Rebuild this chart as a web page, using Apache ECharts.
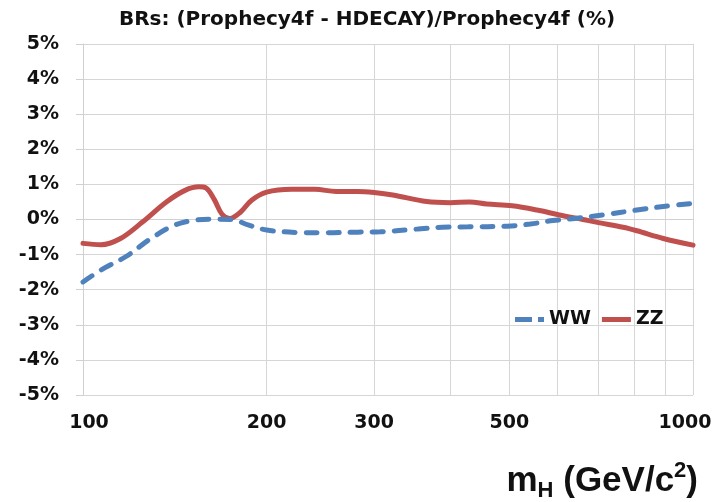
<!DOCTYPE html>
<html>
<head>
<meta charset="utf-8">
<script src="https://cdn.jsdelivr.net/npm/echarts@6/dist/echarts.min.js"></script>
<style>
  html, body { margin: 0; padding: 0; background: #fff; }
  #chart { width: 725px; height: 502px; }
</style>
</head>
<body>
<div id="chart"></div>
<script>
// Higgs mass points (GeV/c^2) and relative BR differences (%) per channel
const zzMass = [100, 107, 115, 125, 137, 147, 155, 159, 164, 169, 174, 181, 189, 200, 220, 240, 260, 282, 300, 322, 366, 400, 430, 459, 505, 555, 604, 660, 700, 768, 809, 894, 1000];
const zzValues = [-0.68, -0.72, -0.55, -0.08, 0.50, 0.83, 0.93, 0.90, 0.58, 0.15, 0.03, 0.20, 0.55, 0.78, 0.86, 0.86, 0.80, 0.80, 0.77, 0.70, 0.51, 0.48, 0.50, 0.44, 0.39, 0.27, 0.13, 0.00, -0.09, -0.22, -0.32, -0.54, -0.73];

const wwMass = [100, 107, 118, 128, 140, 151, 162, 175, 187, 200, 225, 249, 282, 307, 354, 388, 428, 496, 541, 589, 640, 711, 809, 894, 1000];
const wwValues = [-1.78, -1.44, -1.04, -0.59, -0.19, -0.03, 0.01, 0.00, -0.16, -0.30, -0.37, -0.38, -0.36, -0.35, -0.27, -0.22, -0.21, -0.19, -0.13, -0.03, 0.03, 0.13, 0.27, 0.37, 0.46];

// Axis ticks
const gridMasses = [100, 200, 300, 400, 500, 600, 700, 800, 900, 1000];
const massLabels = [100, 200, 300, 500, 1000];

const seriesNames = ['WW', 'ZZ'];

const pairs = (xs, ys) => xs.map((x, i) => [x, ys[i]]);

const labelFont = '"DejaVu Sans", sans-serif';
const nameFont = '"Liberation Sans", Arial, sans-serif';
const ink = '#111111';

const chart = echarts.init(document.getElementById('chart'));
chart.setOption({
  animation: false,
  backgroundColor: '#ffffff',
  title: [
    {
      text: 'BRs: (Prophecy4f - HDECAY)/Prophecy4f (%)',
      left: 362,
      textAlign: 'center',
      top: 5,
      textStyle: { fontFamily: labelFont, fontWeight: 'bold', fontSize: 20, color: ink }
    },
    {
      // x-axis title with subscript and superscript
      text: '{m|m}{s|H}{t| (GeV/c}{p|2}{t|)}',
      right: 22,
      top: 455,
      textStyle: {
        rich: {
          m: { fontFamily: nameFont, fontWeight: 'bold', fontSize: 35, color: ink, lineHeight: 42 },
          t: { fontFamily: nameFont, fontWeight: 'bold', fontSize: 35, color: ink, lineHeight: 42 },
          s: { fontFamily: nameFont, fontWeight: 'bold', fontSize: 22, color: ink, lineHeight: 42, verticalAlign: 'bottom' },
          p: { fontFamily: nameFont, fontWeight: 'bold', fontSize: 22, color: ink, lineHeight: 42, verticalAlign: 'top' }
        }
      }
    }
  ],
  legend: {
    data: [
      { name: seriesNames[0], icon: 'path://M0,0H17V5H0Z M23,0H29V5H23Z' },
      { name: seriesNames[1], icon: 'rect' }
    ],
    left: 515,
    top: 310,
    padding: 0,
    itemWidth: 29,
    itemHeight: 5,
    itemGap: 11,
    textStyle: { fontFamily: labelFont, fontWeight: 'bold', fontSize: 19, color: ink }
  },
  grid: { left: 83, right: 32, top: 44, bottom: 107, containLabel: false },
  xAxis: {
    type: 'log',
    logBase: 10,
    min: 100,
    max: 1000,
    axisLine: { show: true, lineStyle: { color: '#d0d0d0', width: 1 } },
    axisTick: { show: false, customValues: gridMasses },
    splitLine: { show: true, lineStyle: { color: '#d6d6d6', width: 1 } },
    minorSplitLine: { show: false },
    axisLabel: {
      customValues: massLabels,
      margin: 19,
      formatter: function (v) {
        if (v === 100) return '{first|' + v + '}';
        if (v === 1000) return '{last|' + v + '}';
        return '{mid|' + v + '}';
      },
      rich: {
        first: { fontFamily: labelFont, fontWeight: 'bold', fontSize: 19, color: ink, padding: [0, 0, 0, 12] },
        mid: { fontFamily: labelFont, fontWeight: 'bold', fontSize: 19, color: ink },
        last: { fontFamily: labelFont, fontWeight: 'bold', fontSize: 19, color: ink, padding: [0, 16, 0, 0] }
      }
    }
  },
  yAxis: {
    type: 'value',
    min: -5,
    max: 5,
    interval: 1,
    axisLine: { show: true, lineStyle: { color: '#d0d0d0', width: 1 } },
    axisTick: { show: true, length: 7, lineStyle: { color: '#d0d0d0' } },
    splitLine: { show: true, lineStyle: { color: '#d6d6d6', width: 1 } },
    axisLabel: {
      margin: 24,
      formatter: '{value}%',
      fontFamily: labelFont,
      fontWeight: 'bold',
      fontSize: 19,
      color: ink
    }
  },
  series: [
    {
      name: seriesNames[0],
      type: 'line',
      data: pairs(wwMass, wwValues),
      smooth: 0.35,
      symbol: 'none',
      color: '#4f81bd',
      lineStyle: { color: '#4f81bd', width: 5, type: [11, 11], cap: 'round' },
      z: 3
    },
    {
      name: seriesNames[1],
      type: 'line',
      data: pairs(zzMass, zzValues),
      smooth: 0.35,
      symbol: 'none',
      color: '#c0504d',
      lineStyle: { color: '#c0504d', width: 5, cap: 'round' },
      z: 2
    }
  ]
});
</script>
</body>
</html>
